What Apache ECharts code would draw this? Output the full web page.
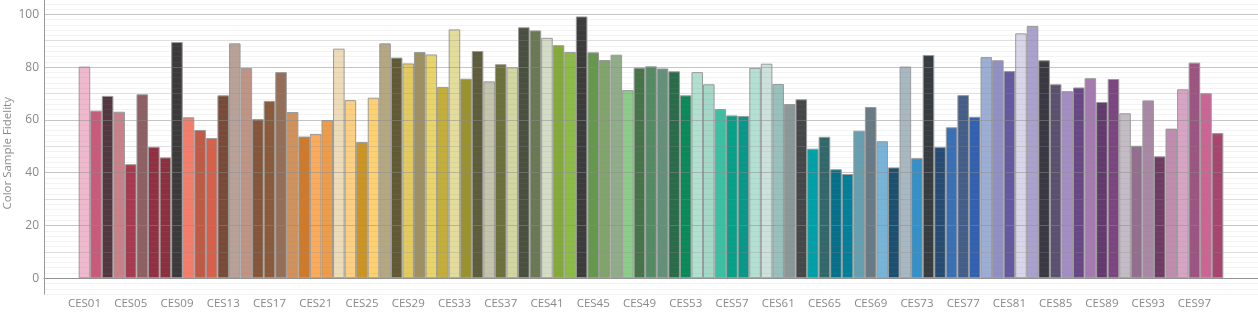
<!DOCTYPE html>
<html>
<head>
<meta charset="utf-8">
<script src="https://cdn.jsdelivr.net/npm/echarts@6/dist/echarts.min.js"></script>
<style>
html,body{margin:0;padding:0;background:#fff;}
#chart{width:1258px;height:315px;}
</style>
</head>
<body>
<div id="chart"></div>
<script>
const categories = [];
for (let i = 1; i <= 99; i++) categories.push('CES' + String(i).padStart(2, '0'));

const values = [
  80.2, 63.5, 69.1, 63.1, 43.2, 69.7, 49.8, 45.8, 89.5, 61.0,
  56.2, 53.1, 69.3, 89.0, 79.7, 60.3, 67.2, 78.1, 63.0, 53.7,
  54.7, 59.9, 87.0, 67.5, 51.6, 68.4, 89.0, 83.6, 81.4, 85.7,
  84.8, 72.5, 94.3, 75.6, 86.1, 74.6, 81.1, 79.9, 95.1, 93.9,
  91.1, 88.3, 85.7, 99.2, 85.6, 82.7, 84.7, 71.3, 79.8, 80.3,
  79.5, 78.4, 69.3, 78.1, 73.5, 64.1, 61.7, 61.5, 79.7, 81.3,
  73.6, 66.0, 67.8, 49.1, 53.6, 41.3, 39.5, 55.9, 64.9, 51.9,
  42.0, 80.2, 45.5, 84.6, 49.7, 57.2, 69.4, 61.2, 83.8, 82.6,
  78.5, 92.8, 95.6, 82.6, 73.5, 70.9, 72.3, 75.8, 66.8, 75.5,
  62.5, 50.2, 67.4, 46.2, 56.7, 71.6, 81.7, 70.1, 55.0
];

const colors = [
  '#f0b8cc','#c85a7a','#533841','#c98088','#a83a50','#8e5f63','#923043','#8c3040','#3d3a3c','#f47d6b',
  '#c05a45','#da5f48','#7a4a38','#b8a298','#c09484','#845539','#8a5a3a','#946e56','#d0915a','#cf7a2a',
  '#fbab5a','#ee9c48','#eedcb8','#fcd080','#cc9420','#fdd070','#b5a880','#625a34','#e2ca60','#9e9060',
  '#e8d468','#c4ae3a','#e4dc9a','#9a922e','#5e5c3a','#c4c4ac','#6c703a','#d2d6a0','#4a5040','#6a7854',
  '#d4dcc4','#84aa3a','#8cbc44','#3c3c3c','#64984c','#80a46c','#90ac88','#8ccc88','#447448','#548a64',
  '#64907a','#2a6c4a','#0a8a5a','#b2e0d0','#a4d8c8','#3cc0a4','#04a088','#08988a','#b4e0d4','#cce0dc',
  '#98c0bc','#8a9898','#444848','#00a0a8','#32686a','#04708a','#00809a','#64a0b0','#687a84','#78b4d8',
  '#1c5070','#a8b8c0','#3490c8','#363c40','#264c74','#3870b8','#445e8a','#3460b0','#9caed4','#9090c4',
  '#6458a0','#d8d6e8','#aaa2cc','#3a3840','#5c5070','#a48cc4','#684884','#a47ab0','#643a6e','#7c4480',
  '#c4bcc4','#946e8e','#a888a4','#703a64','#c08cb0','#d8a4c4','#9c5480','#cc6494','#a8446e'
];

const yTickLabels = [0, 20, 40, 60, 80, 100];
const yAxisName = 'Color Sample Fidelity';

const PAD = 3;
const padCats = [];
for (let i = 0; i < PAD; i++) padCats.push('');
const xData = padCats.concat(categories, padCats.map(() => ' '));
const seriesData = padCats.map(() => '-').concat(
  values.map((v, i) => ({ value: v, itemStyle: { color: colors[i] } })),
  padCats.map(() => '-')
);

const major = 'rgba(140,140,140,0.5)';
const mid = 'rgba(140,140,140,0.28)';
const minor = 'rgba(140,140,140,0.1)';
// lines from -6 every 2: index 3 is 0 (major), index 8 is 10 (mid)
const lineColors = [minor, minor, minor, major, minor, minor, minor, minor, mid, minor];

const chart = echarts.init(document.getElementById('chart'), null, { renderer: 'canvas' });
chart.setOption({
  backgroundColor: '#fff',
  animation: false,
  textStyle: { fontFamily: 'Open Sans' },
  grid: { left: 44, right: 0, top: -1.5, bottom: 20.9, containLabel: false, outerBoundsMode: 'none' },
  xAxis: {
    type: 'category',
    data: xData,
    boundaryGap: true,
    axisLine: { lineStyle: { color: '#999', width: 1 } },
    axisTick: {
      inside: true, length: 6, alignWithLabel: true,
      interval: (idx) => idx >= PAD && idx < PAD + categories.length,
      lineStyle: { color: '#999' }
    },
    axisLabel: {
      interval: (idx) => idx >= PAD && idx < PAD + categories.length && (idx - PAD) % 4 === 0,
      color: '#888', fontSize: 11.5, margin: 4, fontFamily: 'Open Sans'
    },
    splitLine: { show: false }
  },
  yAxis: {
    type: 'value',
    min: -6, max: 106, interval: 2,
    z: 5,
    name: yAxisName,
    nameLocation: 'middle',
    nameGap: 30,
    nameMoveOverlap: false,
    nameTextStyle: { color: '#8a8a8a', fontSize: 11.5, fontFamily: 'Open Sans', padding: [0, 14, 0, 0] },
    axisLine: { show: true, lineStyle: { color: '#999', width: 1 } },
    axisTick: { show: false },
    axisLabel: {
      color: '#888', fontSize: 12, margin: 5, fontFamily: 'Open Sans',
      formatter: (v) => yTickLabels.indexOf(Math.round(v)) >= 0 && Math.abs(v - Math.round(v)) < 1e-6 ? String(Math.round(v)) : ''
    },
    splitLine: { show: true, lineStyle: { color: lineColors, width: 1 } }
  },
  series: [{
    type: 'bar',
    data: seriesData,
    barCategoryGap: '0%',
    itemStyle: { borderColor: '#9a9a9a', borderWidth: 1 }
  }]
});
</script>
</body>
</html>
